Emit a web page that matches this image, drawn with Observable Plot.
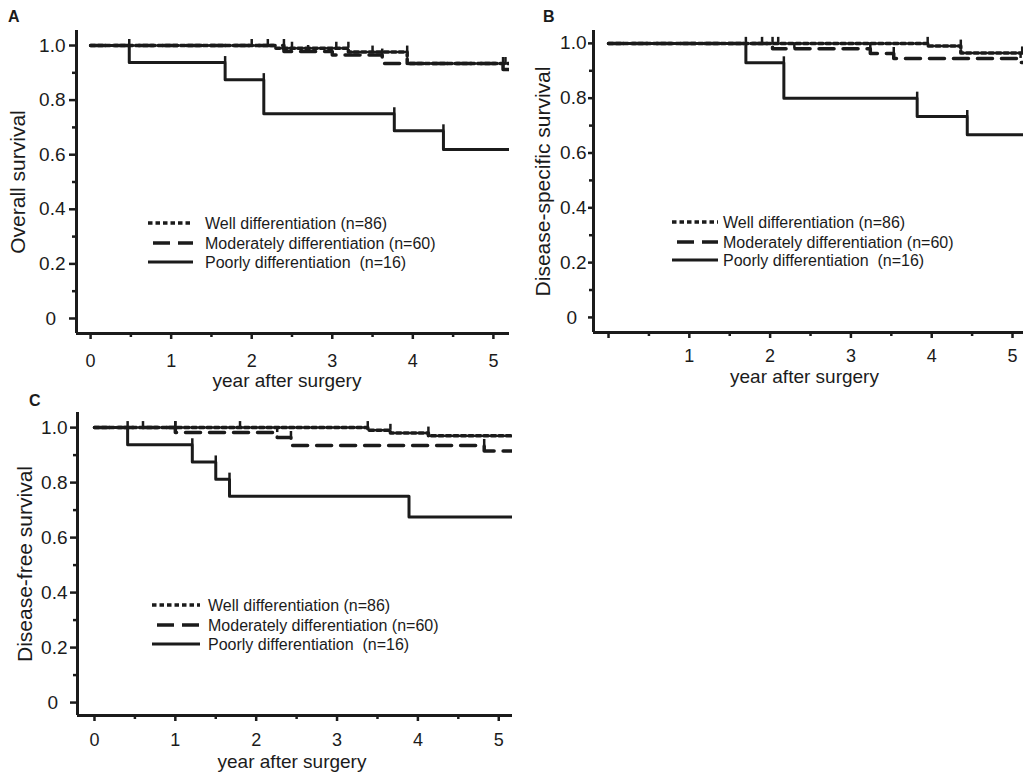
<!DOCTYPE html>
<html><head><meta charset="utf-8">
<script src="https://cdn.jsdelivr.net/npm/d3@7"></script>
<script src="https://cdn.jsdelivr.net/npm/@observablehq/plot@0.6"></script>
<style>
body{margin:0;background:#fff;}
#root{position:relative;width:1023px;height:772px;overflow:hidden;font-family:"Liberation Sans",Arial,sans-serif;color:#1b1b1b;}
.panel{position:absolute;}
.letter{position:absolute;font-weight:bold;font-size:16px;line-height:16px;color:#1b1b1b;}
</style></head><body><div id="root"></div>
<script>
// ---------- data ----------
const years = [0, 1, 2, 3, 4, 5];
const yearsMinor = [0.5, 1.5, 2.5, 3.5, 4.5];
const survTicks = [0, 0.2, 0.4, 0.6, 0.8, 1.0];
const survMinor = [0.1, 0.3, 0.5, 0.7, 0.9];
const groupNames = ["Well differentiation (n=86)", "Moderately differentiation (n=60)", "Poorly differentiation  (n=16)"];
const xTitle = "year after surgery";
const yTitles = ["Overall survival", "Disease-specific survival", "Disease-free survival"];
const panelLetters = ["A", "B", "C"];

// Panel A: overall survival
const aWellT = [0, 2.3, 3.2, 3.93, 5.2];
const aWellS = [1, 0.99, 0.976, 0.934, 0.934];
const aWellCens = [2.0, 2.2, 2.5, 3.05, 3.2, 3.5, 3.93, 5.15];
const aModT = [0, 2.4, 3.0, 3.62, 5.12, 5.2];
const aModS = [1, 0.978, 0.965, 0.934, 0.912, 0.912];
const aModCens = [2.4, 2.7, 3.62, 5.12];
const aPoorT = [0, 0.48, 1.67, 2.15, 3.77, 4.38, 5.2];
const aPoorS = [1, 0.9375, 0.875, 0.75, 0.6875, 0.619, 0.619];
const aPoorCens = [0.48, 1.67, 2.15, 3.77, 4.38];

// Panel B: disease-specific survival
const bWellT = [0, 3.95, 4.36, 5.14];
const bWellS = [1, 0.99, 0.965, 0.965];
const bWellCens = [1.9, 2.1, 3.95, 4.36, 5.12];
const bModT = [0, 2.03, 3.24, 3.53, 5.1, 5.14];
const bModS = [1, 0.98, 0.963, 0.945, 0.93, 0.93];
const bModCens = [2.03, 2.3, 3.24, 3.53, 5.1];
const bPoorT = [0, 1.70, 2.17, 3.82, 4.44, 5.14];
const bPoorS = [1, 0.929, 0.80, 0.733, 0.667, 0.667];
const bPoorCens = [1.70, 2.17, 3.82, 4.44];

// Panel C: disease-free survival
const cWellT = [0, 3.38, 3.66, 4.13, 5.17];
const cWellS = [1, 0.99, 0.98, 0.97, 0.97];
const cWellCens = [0.6, 1.0, 1.8, 3.38, 3.66, 4.13];
const cModT = [0, 1.0, 2.26, 2.43, 4.82, 5.17];
const cModS = [1, 0.982, 0.964, 0.935, 0.915, 0.915];
const cModCens = [1.0, 2.26, 2.43, 4.82];
const cPoorT = [0, 0.41, 1.21, 1.50, 1.67, 3.89, 5.17];
const cPoorS = [1, 0.9375, 0.875, 0.8125, 0.75, 0.675, 0.675];
const cPoorCens = [0.41, 1.21, 1.50, 1.67];

// ---------- helpers ----------
const INK = "#1b1b1b";
const FONT = "'Liberation Sans', Arial, sans-serif";
const rows = (T, S) => T.map((t, i) => ({t, s: S[i]}));
const cens = (C, T, S) => C.map(t => {
  let s = S[0];
  for (let i = 0; i < T.length; i++) if (T[i] < t - 1e-9) s = S[i];
  return {t, s};
});
const styles = [
  {strokeDasharray: "4.5,3", strokeWidth: 3.5},
  {strokeDasharray: "15,9", strokeWidth: 3.5},
  {strokeDasharray: null, strokeWidth: 3}
];

function panel(cfg) {
  const marks = [
    Plot.ruleX([cfg.xDomain[0]], {stroke: INK, strokeWidth: 3}),
    Plot.ruleY([cfg.yDomain[0]], {stroke: INK, strokeWidth: 3}),
    Plot.axisY({ticks: survTicks, tickSize: cfg.yTickSize, tickPadding: cfg.yTickPad, stroke: INK, strokeWidth: 2.5,
      tickFormat: d => d === 0 ? "0\u2002" : d.toFixed(1), fontSize: 19, label: null}),
    Plot.axisY({ticks: survMinor, tickSize: 4, stroke: INK, strokeWidth: 2.5, tickFormat: () => "", label: null}),
    Plot.axisX({ticks: years, tickSize: 6, tickPadding: cfg.xTickPad, stroke: INK, strokeWidth: 2.5,
      tickFormat: d => (cfg.hideZero && d === 0) ? "" : String(d), fontSize: 18, label: null}),
    Plot.axisX({ticks: yearsMinor, tickSize: 4, stroke: INK, strokeWidth: 2.5, tickFormat: () => "", label: null}),
    Plot.text([xTitle], {frameAnchor: "bottom", text: d => d, lineAnchor: "middle", textAnchor: "middle",
      dy: cfg.xTitleDy, dx: cfg.xTitleDx, fontSize: 19, fill: INK}),
    Plot.text([cfg.yTitle], {frameAnchor: "left", text: d => d, rotate: -90, textAnchor: "middle", lineAnchor: "middle",
      dx: cfg.yTitleDx, fontSize: 21, fill: INK})
  ];
  cfg.series.forEach(([T, S, C], i) => {
    marks.push(Plot.line(rows(T, S), {x: "t", y: "s", curve: "step-after", stroke: INK, ...styles[i], clip: true}));
    marks.push(Plot.ruleX(cens(C, T, S), {x: "t", y1: "s", y2: d => d.s + 0.022, stroke: INK, strokeWidth: 2.5, clip: true}));
  });
  const svg = Plot.plot({
    width: cfg.width, height: cfg.height,
    marginLeft: cfg.ml, marginRight: cfg.mr, marginTop: cfg.mt, marginBottom: cfg.mb,
    x: {domain: cfg.xDomain},
    y: {domain: cfg.yDomain},
    style: {fontFamily: FONT, fontSize: "19px", color: INK, background: "transparent", overflow: "visible"},
    marks
  });
  svg.classList.add("panel");
  svg.style.left = cfg.left + "px";
  svg.style.top = cfg.top + "px";
  return svg;
}

const root = document.getElementById("root");

root.appendChild(panel({
  left: 0, top: 0, width: 512, height: 390, ml: 76, mr: 3, mt: 30, mb: 57,
  xDomain: [-0.175, 5.2], yDomain: [-0.055, 1.055],
  yTickSize: 7, yTickPad: 4, xTickPad: 15, xTitleDy: 47, xTitleDx: -6, yTitleDx: -58,
  yTitle: yTitles[0], hideZero: false,
  series: [[aWellT, aWellS, aWellCens], [aModT, aModS, aModCens], [aPoorT, aPoorS, aPoorCens]]
}));
root.appendChild(panel({
  left: 512, top: 0, width: 511, height: 390, ml: 81, mr: 0, mt: 30, mb: 58,
  xDomain: [-0.186, 5.136], yDomain: [-0.055, 1.047],
  yTickSize: 5, yTickPad: 2, xTickPad: 11, xTitleDy: 44, xTitleDx: -4, yTitleDx: -50,
  yTitle: yTitles[1], hideZero: true,
  series: [[bWellT, bWellS, bWellCens], [bModT, bModS, bModCens], [bPoorT, bPoorS, bPoorCens]]
}));
root.appendChild(panel({
  left: 0, top: 390, width: 512, height: 382, ml: 77, mr: 0, mt: 22, mb: 57,
  xDomain: [-0.21, 5.17], yDomain: [-0.047, 1.055],
  yTickSize: 7, yTickPad: 3, xTickPad: 12, xTitleDy: 46, xTitleDx: -3, yTitleDx: -52,
  yTitle: yTitles[2], hideZero: false,
  series: [[cWellT, cWellS, cWellCens], [cModT, cModS, cModCens], [cPoorT, cPoorS, cPoorCens]]
}));

// panel letters
[[8, 9], [543, 9], [29, 393]].forEach(([l, t], i) => {
  const d = document.createElement("div");
  d.className = "letter";
  d.style.left = l + "px"; d.style.top = t + "px";
  d.textContent = panelLetters[i];
  root.appendChild(d);
});

// legends (overlay)
const leg = d3.select(root).append("svg")
  .attr("width", 1023).attr("height", 772)
  .style("position", "absolute").style("left", "0px").style("top", "0px").style("pointer-events", "none");
const legendPlaces = [
  {x1: 148, x2: 193, dx1: 153, tx: 205, ys: [223, 243, 262]},
  {x1: 672, x2: 718, dx1: 677, tx: 723, ys: [222, 242, 260]},
  {x1: 152, x2: 200, dx1: 157, tx: 208, ys: [605, 625, 644]}
];
const legDash = ["4.5,3", "17,8", null];
legendPlaces.forEach(p => {
  groupNames.forEach((name, i) => {
    leg.append("line")
      .attr("x1", i === 1 ? p.dx1 : p.x1).attr("x2", p.x2)
      .attr("y1", p.ys[i]).attr("y2", p.ys[i])
      .attr("stroke", INK).attr("stroke-width", i === 2 ? 3 : 3.5)
      .attr("stroke-dasharray", legDash[i]);
    leg.append("text")
      .attr("x", p.tx).attr("y", p.ys[i]).attr("dy", "0.35em")
      .attr("font-family", FONT).attr("font-size", 16).attr("fill", INK)
      .style("white-space", "pre")
      .text(name);
  });
});
</script></body></html>
